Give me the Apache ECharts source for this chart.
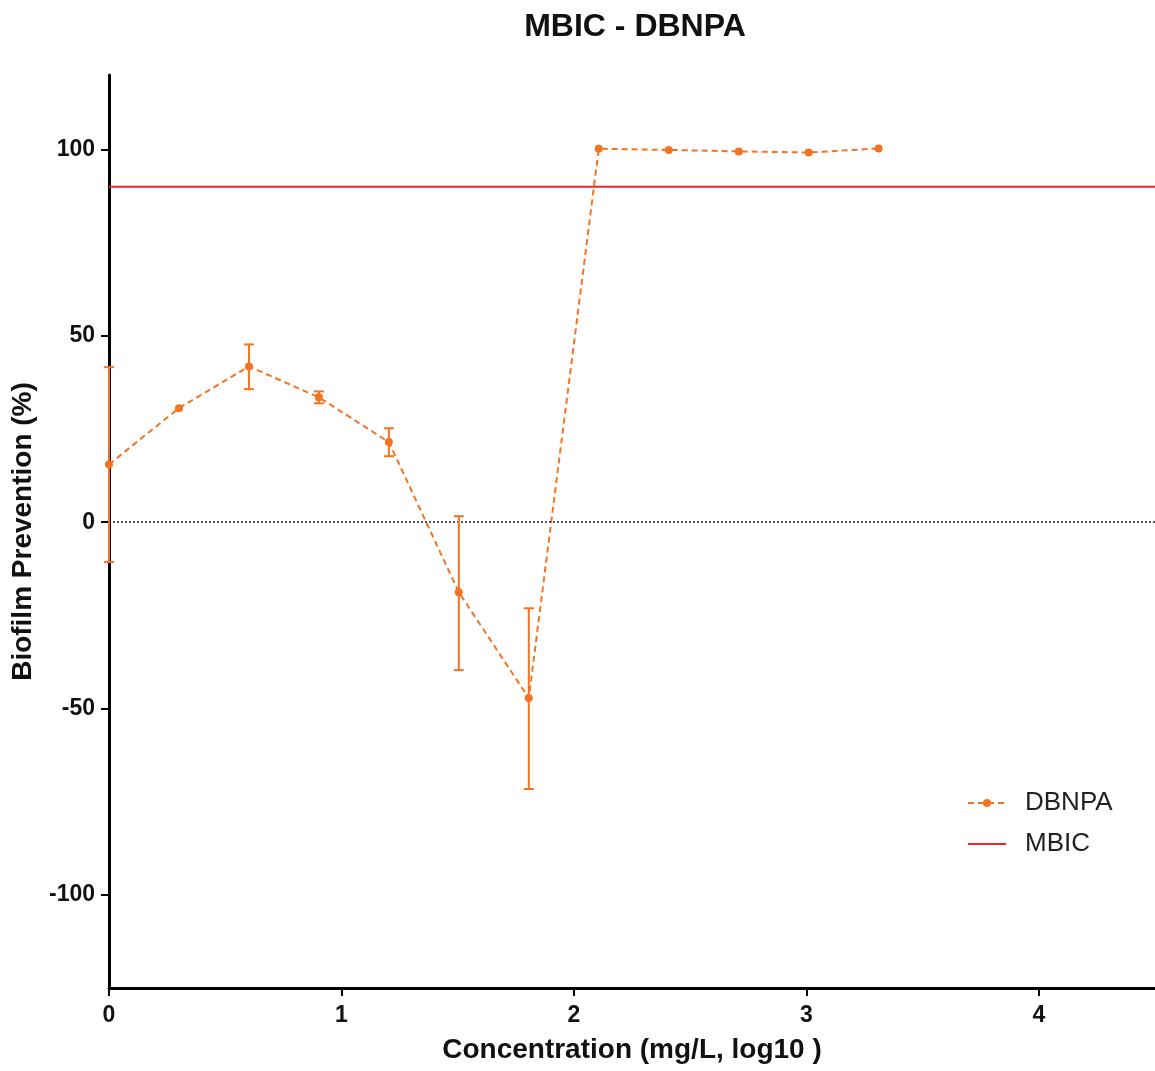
<!DOCTYPE html>
<html>
<head>
<meta charset="utf-8">
<script src="https://cdn.jsdelivr.net/npm/echarts@6/dist/echarts.min.js"></script>
<style>
html,body{margin:0;padding:0;background:#fff;}
#chart{width:1155px;height:1071px;}
</style>
</head>
<body>
<div id="chart"></div>
<script>
// log10 concentration (mg/L)
const logConc = [0, 0.301, 0.602, 0.903, 1.204, 1.505, 1.806, 2.107, 2.408, 2.709, 3.010, 3.311];
// mean biofilm prevention (%)
const dbnpaMean = [15.5, 30.6, 41.8, 33.5, 21.5, -18.8, -47.2, 100.2, 99.9, 99.5, 99.2, 100.3];
// error bar bounds
const dbnpaLow  = [-10.7, 30.6, 35.7, 31.9, 17.7, -39.7, -71.6, 100.2, 99.9, 99.5, 99.2, 100.3];
const dbnpaHigh = [41.6, 30.6, 47.7, 35.1, 25.2, 1.6, -23.1, 100.2, 99.9, 99.5, 99.2, 100.3];
const mbicLevel = 90;
const xRange = [0, 4.5];
const yTicks = [-100, -50, 0, 50, 100];
const xTicks = [0, 1, 2, 3, 4];

const FONT = "'Liberation Sans', Arial, sans-serif";
const ORANGE = '#f47321';
const RED = '#e8262b';

const lineData = logConc.map((x, i) => [x, dbnpaMean[i]]);
const errData = logConc.map((x, i) => [x, dbnpaLow[i], dbnpaHigh[i]]);

const chart = echarts.init(document.getElementById('chart'));
chart.setOption({
  animation: false,
  backgroundColor: '#fff',
  title: {
    text: 'MBIC - DBNPA',
    left: 630, top: 6, textAlign: 'center',
    textStyle: {fontFamily: FONT, fontWeight: 'bold', fontSize: 32, color: '#111'}
  },
  grid: {left: 109, right: 0, top: 75, bottom: 83, containLabel: false},
  legend: {
    orient: 'vertical', left: 962, top: 785,
    itemWidth: 38, itemHeight: 10, itemGap: 15,
    data: [
      {name: 'DBNPA'},
      {name: 'MBIC', icon: 'path://M0,0L40,0L40,2L0,2Z', itemStyle: {color: RED}}
    ],
    textStyle: {fontFamily: FONT, fontSize: 26, color: '#222', padding: [0, 0, 0, 14]}
  },
  xAxis: {
    type: 'value', min: xRange[0], max: xRange[1],
    name: 'Concentration (mg/L, log10 )', nameLocation: 'middle', nameGap: 48,
    nameTextStyle: {fontFamily: FONT, fontWeight: 'bold', fontSize: 28, color: '#111'},
    axisLine: {show: true, onZero: false, lineStyle: {color: '#000', width: 3}},
    axisTick: {show: true, length: 8, lineStyle: {color: '#000', width: 2}, customValues: xTicks},
    axisLabel: {fontFamily: FONT, fontWeight: 'bold', fontSize: 23, color: '#111', margin: 16, customValues: xTicks},
    splitLine: {show: false}
  },
  yAxis: {
    type: 'value', min: -125, max: 120,
    name: 'Biofilm Prevention (%)', nameLocation: 'middle', nameGap: 72, nameRotate: 90,
    nameTextStyle: {fontFamily: FONT, fontWeight: 'bold', fontSize: 28, color: '#111'},
    axisLine: {show: true, onZero: false, lineStyle: {color: '#000', width: 3}},
    axisTick: {show: true, length: 8, lineStyle: {color: '#000', width: 2}, customValues: yTicks},
    axisLabel: {fontFamily: FONT, fontWeight: 'bold', fontSize: 23, color: '#111', margin: 14, customValues: yTicks},
    splitLine: {show: false}
  },
  series: [
    {
      name: 'DBNPA', type: 'line', data: lineData,
      symbol: 'circle', symbolSize: 8,
      itemStyle: {color: ORANGE},
      lineStyle: {color: ORANGE, width: 2, type: [6, 4]},
      z: 4,
      markLine: {
        silent: true, symbol: 'none', label: {show: false},
        lineStyle: {color: '#222', width: 1.5, type: [2, 2]},
        data: [{yAxis: 0}]
      }
    },
    {
      name: 'DBNPA-err', type: 'custom', data: errData, z: 5,
      renderItem: function (params, api) {
        const x = api.value(0);
        const lo = api.coord([x, api.value(1)]);
        const hi = api.coord([x, api.value(2)]);
        if (Math.abs(lo[1] - hi[1]) < 2) return {type: 'group', children: []};
        const w = 5;
        const st = {stroke: ORANGE, lineWidth: 2};
        return {
          type: 'group',
          children: [
            {type: 'line', shape: {x1: lo[0], y1: lo[1], x2: hi[0], y2: hi[1]}, style: st},
            {type: 'line', shape: {x1: lo[0] - w, y1: lo[1], x2: lo[0] + w, y2: lo[1]}, style: st},
            {type: 'line', shape: {x1: hi[0] - w, y1: hi[1], x2: hi[0] + w, y2: hi[1]}, style: st}
          ]
        };
      }
    },
    {
      name: 'MBIC', type: 'line', data: [[xRange[0], mbicLevel], [xRange[1], mbicLevel]],
      symbol: 'none', itemStyle: {color: RED},
      lineStyle: {color: RED, width: 2}, z: 3
    }
  ]
});
</script>
</body>
</html>
